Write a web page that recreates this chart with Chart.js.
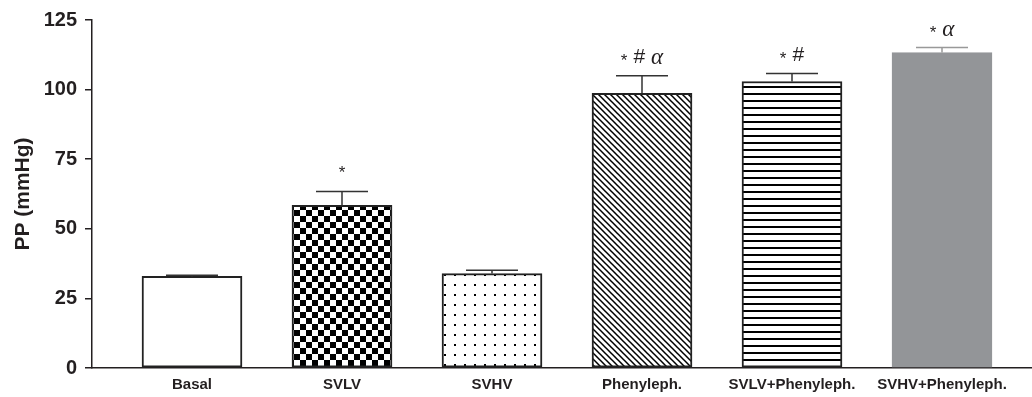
<!DOCTYPE html>
<html>
<head>
<meta charset="utf-8">
<script src="https://cdn.jsdelivr.net/npm/chart.js@4"></script>
<style>
  html, body { margin: 0; padding: 0; background: #fff; }
  #wrap { width: 1032px; height: 397px; position: relative; }
</style>
</head>
<body>
<div id="wrap"><canvas id="chart"></canvas></div>
<script>
// ─── Data ─────────────────────────────────────────────────────────────────────
const categories = ["Basal", "SVLV", "SVHV", "Phenyleph.", "SVLV+Phenyleph.", "SVHV+Phenyleph."];
const meanPP     = [32.9, 58.4, 33.9, 98.7, 102.9, 113.3];
const errTopPP   = [33.3, 63.4, 35.1, 105.0, 105.8, 115.1];
const marks      = ["", "*", "", "* # α", "* #", "* α"];
const yTicks     = [0, 25, 50, 75, 100, 125];

const INK = "#231f20";

// ─── Fill patterns ────────────────────────────────────────────────────────────
function makePattern(w, h, draw) {
  const c = document.createElement("canvas");
  c.width = w; c.height = h;
  const g = c.getContext("2d");
  g.fillStyle = "#fff";
  g.fillRect(0, 0, w, h);
  draw(g);
  return g.createPattern(c, "repeat");
}

const checker = makePattern(12, 12, g => {
  g.fillStyle = "#000";
  g.fillRect(0, 0, 6, 6);
  g.fillRect(6, 6, 6, 6);
});

const dots = makePattern(10, 10, g => {
  g.fillStyle = "#000";
  g.fillRect(4, 4, 2, 2);
});

const diagonal = makePattern(6, 6, g => {
  g.strokeStyle = "#000";
  g.lineWidth = 1.5;
  g.beginPath();
  g.moveTo(-1, -1); g.lineTo(7, 7);
  g.moveTo(-7, -1); g.lineTo(1, 7);
  g.moveTo(5, -1);  g.lineTo(13, 7);
  g.stroke();
});

const horizontal = makePattern(10, 7, g => {
  g.fillStyle = "#000";
  g.fillRect(0, 2, 10, 2);
});

const fills   = ["#fff", checker, dots, diagonal, horizontal, "#939598"];
const borders = ["#222", "#222", "#222", "#222", "#222", "#939598"];
const errCol  = ["#333", "#333", "#333", "#333", "#333", "#999"];

// ─── Error bars + significance marks ──────────────────────────────────────────
const errorBars = {
  id: "errorBars",
  afterDatasetsDraw(chart) {
    const ctx = chart.ctx;
    const y = chart.scales.y;
    const meta = chart.getDatasetMeta(0);
    meta.data.forEach((bar, i) => {
      const top = y.getPixelForValue(meanPP[i]);
      const et  = y.getPixelForValue(errTopPP[i]);
      ctx.save();
      ctx.strokeStyle = errCol[i];
      ctx.lineWidth = 1.5;
      ctx.beginPath();
      ctx.moveTo(bar.x, top);
      ctx.lineTo(bar.x, et);
      ctx.moveTo(bar.x - 26, et);
      ctx.lineTo(bar.x + 26, et);
      ctx.stroke();
      ctx.restore();
      drawMark(ctx, marks[i], bar.x, et - 18);
    });
  }
};

function tokenFont(t) {
  if (t === "α") return "italic 23px 'Liberation Serif'";
  if (t === "#") return "21px 'Liberation Sans'";
  return "17px 'Liberation Sans'";
}

function drawMark(ctx, text, cx, cy) {
  if (!text) return;
  const parts = text.split(" ");
  const gap = 6;
  ctx.save();
  ctx.fillStyle = INK;
  ctx.textBaseline = "middle";
  const widths = parts.map(t => { ctx.font = tokenFont(t); return ctx.measureText(t).width; });
  const total = widths.reduce((s, w) => s + w, 0) + gap * (parts.length - 1);
  let x = cx - total / 2;
  parts.forEach((t, k) => {
    ctx.font = tokenFont(t);
    const dy = t === "*" ? (parts.length > 1 ? 4 : 0) : 0;
    ctx.fillText(t, x, cy + dy);
    x += widths[k] + gap;
  });
  ctx.restore();
}

// ─── Chart ────────────────────────────────────────────────────────────────────
new Chart(document.getElementById("chart"), {
  type: "bar",
  data: {
    datasets: [{
      data: meanPP.map((v, i) => ({ x: i, y: v })),
      backgroundColor: fills,
      borderColor: borders,
      borderWidth: 2,
      borderSkipped: false,
      barThickness: 100
    }]
  },
  options: {
    responsive: true,
    maintainAspectRatio: false,
    animation: false,
    layout: { padding: { top: 19, right: 0, left: 0, bottom: 0 } },
    plugins: { legend: { display: false }, tooltip: { enabled: false } },
    scales: {
      x: {
        type: "linear",
        offset: false,
        min: -0.6667,
        max: 5.6,
        afterFit: s => { s.height = 29; },
        afterBuildTicks: s => { s.ticks = categories.map((_, i) => ({ value: i })); },
        grid: { display: false, drawTicks: false, offset: false },
        border: { display: true, color: INK, width: 1.5 },
        ticks: {
          callback: v => categories[v] ?? "",
          color: INK,
          font: { family: "'Liberation Sans'", size: 15, weight: "bold" },
          padding: 8,
          maxRotation: 0,
          autoSkip: false
        }
      },
      y: {
        min: 0,
        max: 125,
        afterFit: s => { s.width = 92; },
        afterBuildTicks: s => { s.ticks = yTicks.map(v => ({ value: v })); },
        grid: { drawOnChartArea: false, drawTicks: true, tickLength: 7, color: INK, lineWidth: 1.5 },
        border: { display: true, color: INK, width: 1.5 },
        ticks: {
          color: INK,
          font: { family: "'Liberation Sans'", size: 20, weight: "bold" },
          padding: 8
        },
        title: {
          display: true,
          text: "PP (mmHg)",
          color: INK,
          font: { family: "'Liberation Sans'", size: 21, weight: "bold" },
          padding: { top: 11, bottom: 0 }
        }
      }
    }
  },
  plugins: [errorBars]
});
</script>
</body>
</html>
